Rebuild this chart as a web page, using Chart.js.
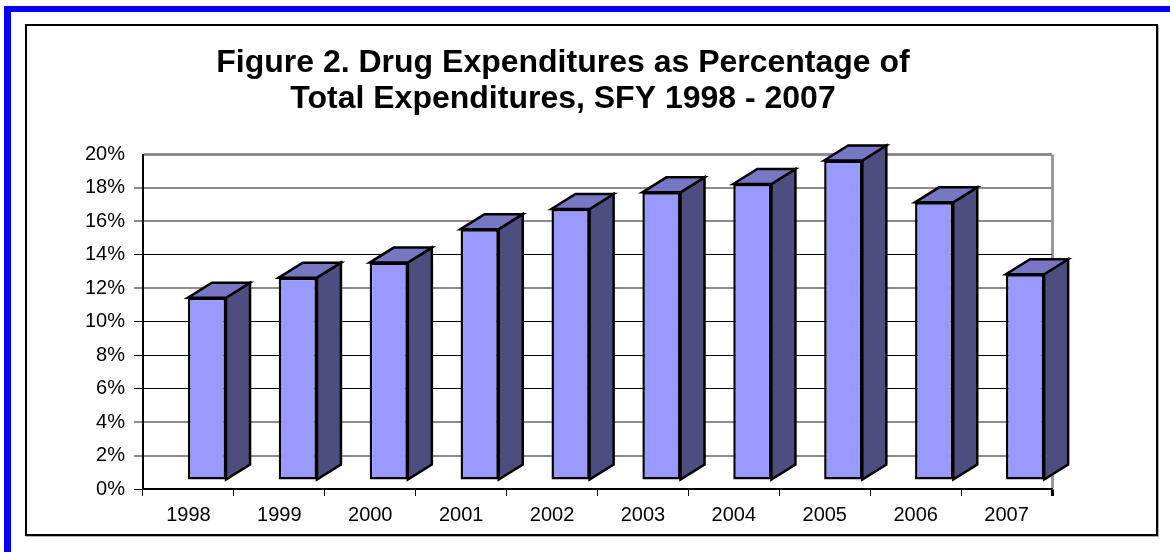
<!DOCTYPE html>
<html>
<head>
<meta charset="utf-8">
<script src="https://cdn.jsdelivr.net/npm/chart.js@4.4.1/dist/chart.umd.min.js"></script>
<style>
  html, body { margin: 0; padding: 0; background: #fff; overflow: hidden; width: 1170px; height: 552px; }
  /* blue outer frame, only top and left edges fall inside the page */
  #frame { position: absolute; left: 4px; top: 6px; width: 1300px; height: 700px;
           border-left: 7px solid #0000ff; border-top: 6px solid #0000ff; }
  #box { position: absolute; left: 25px; top: 24px; width: 1133px; height: 512px;
         box-sizing: border-box; border: 2px solid #000; box-shadow: 1px 1px 0 #b0b0b0; }
  #wrap { position: absolute; left: 25px; top: 24px; width: 1076px; height: 512px; }
</style>
</head>
<body>
<div id="frame"></div>
<div id="box"></div>
<div id="wrap"><canvas id="drugChart" width="1076" height="512"></canvas></div>
<script>
// Dữ liệu biểu đồ
var years = ['1998', '1999', '2000', '2001', '2002', '2003', '2004', '2005', '2006', '2007'];
var drugPct = [10.9, 12.1, 13.0, 15.0, 16.2, 17.2, 17.7, 19.1, 16.6, 12.3];
var yMin = 0, yMax = 20, yStep = 2;
var titleLines = ['Figure 2. Drug Expenditures as Percentage of', 'Total Expenditures, SFY 1998 - 2007'];

Chart.defaults.font.family = "'Liberation Sans', Arial, sans-serif";
Chart.defaults.color = '#000';

// Màu các mặt cột 3D
var frontColor = '#9999ff';
var topColor = '#7777c4';
var sideColor = '#4d4d80';
var depthX = 24, depthY = 15;    // độ sâu của cột
var shiftX = 18.5, shiftY = -9;  // mặt trước lệch so với tường sau

// đường lưới đậm/nhạt như bản gốc
var darkLines = [14, 10, 8, 6, 0];

var bars3d = {
  id: 'bars3d',
  beforeDatasetsDraw: function (chart) {
    var ctx = chart.ctx;
    ctx.save();
    ctx.translate(shiftX, shiftY);
    var meta = chart.getDatasetMeta(0);
    ctx.lineWidth = 2.5;
    ctx.lineJoin = 'miter';
    ctx.strokeStyle = '#000';
    meta.data.forEach(function (bar) {
      var l = bar.x - bar.width / 2, r = bar.x + bar.width / 2;
      var t = bar.y, b = bar.base;
      // mặt bên
      ctx.beginPath();
      ctx.moveTo(r, t);
      ctx.lineTo(r + depthX, t - depthY);
      ctx.lineTo(r + depthX, b - depthY);
      ctx.lineTo(r, b);
      ctx.closePath();
      ctx.fillStyle = sideColor;
      ctx.fill();
      ctx.stroke();
      // mặt trên
      ctx.beginPath();
      ctx.moveTo(l, t);
      ctx.lineTo(l + depthX, t - depthY);
      ctx.lineTo(r + depthX, t - depthY);
      ctx.lineTo(r, t);
      ctx.closePath();
      ctx.fillStyle = topColor;
      ctx.fill();
      ctx.stroke();
    });
  },
  afterDatasetsDraw: function (chart) {
    chart.ctx.restore();
  }
};

var ctx = document.getElementById('drugChart').getContext('2d');
var chart = new Chart(ctx, {
  type: 'bar',
  data: {
    labels: years,
    datasets: [{
      label: 'Drug Expenditures',
      data: drugPct,
      backgroundColor: frontColor,
      borderColor: '#000',
      borderWidth: 2.5,
      borderSkipped: false,
      barPercentage: 0.42,
      categoryPercentage: 1.0,
      clip: false
    }]
  },
  options: {
    responsive: false,
    animation: false,
    layout: { padding: { top: 0, left: 49, right: 49, bottom: 0 } },
    plugins: {
      legend: { display: false },
      tooltip: { enabled: false },
      title: {
        display: true,
        text: titleLines,
        color: '#000',
        font: { size: 32, weight: 'bold', lineHeight: '36px' },
        padding: { top: 21.5, bottom: 37 }
      }
    },
    scales: {
      x: {
        afterFit: function (scale) { scale.height = 47; },
        grid: {
          offset: true,
          // chỉ giữ cạnh phải của tường
          color: function (c) { return c.tick ? 'rgba(0,0,0,0)' : '#999999'; },
          lineWidth: function (c) { return c.tick ? 1 : 3; },
          tickColor: '#000',
          tickLength: 7
        },
        border: { display: true, color: '#000', width: 1.5 },
        ticks: { font: { size: 20 }, padding: 7, color: '#000' }
      },
      y: {
        min: yMin,
        max: yMax,
        afterFit: function (scale) { scale.width = 69; },
        grid: {
          color: function (c) {
            var v = c.tick ? c.tick.value : null;
            return darkLines.indexOf(v) >= 0 ? '#000' : '#8c8c8c';
          },
          lineWidth: function (c) {
            var v = c.tick ? c.tick.value : null;
            if (v === yMax) return 3;
            return darkLines.indexOf(v) >= 0 ? 1 : 2;
          },
          tickColor: function (c) {
            var v = c.tick ? c.tick.value : null;
            if (v === yMax) return 'rgba(0,0,0,0)';
            return darkLines.indexOf(v) >= 0 ? '#000' : '#8c8c8c';
          },
          tickLength: 9
        },
        border: { display: true, color: '#000', width: 2 },
        ticks: {
          stepSize: yStep,
          padding: 9,
          font: { size: 20 },
          color: '#000',
          callback: function (v) { return v + '%'; }
        }
      }
    }
  },
  plugins: [bars3d]
});
</script>
</body>
</html>
